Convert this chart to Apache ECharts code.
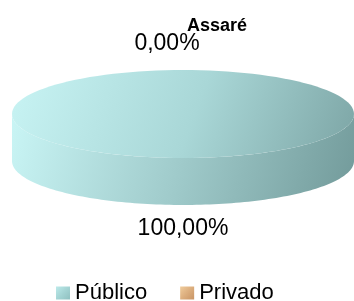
<!DOCTYPE html>
<html>
<head>
<meta charset="utf-8">
<title>Assaré</title>
<script src="https://cdn.jsdelivr.net/npm/echarts@6/dist/echarts.min.js"></script>
<style>
  html, body { margin: 0; padding: 0; background: #fff; }
  #main { width: 354px; height: 301px; }
</style>
</head>
<body>
<div id="main"></div>
<script type="text/javascript">
// dados
var titulo = 'Assaré';
var categorias = ['Público', 'Privado'];
var valores = [100, 0];

// cores: [claro, meio, escuro] de cada fatia
var coresTopo = [['#c6f2f2', '#a9d7d7', '#7aa2a2'], ['#f2d6b2', '#deb284', '#c08a58']];
var coresLado = [['#c9f5f5', '#9fcaca', '#729a9a'], ['#f0d0a8', '#d4a474', '#b07c4c']];
var coresLegenda = [['#bdeaea', '#a4d4d4', '#8fc0c0'], ['#f0cc9c', '#dcae7e', '#c89464']];

var total = valores.reduce(function (a, b) { return a + b; }, 0);
var inicio = [];
var acc = 0;
for (var i = 0; i < valores.length; i++) {
    inicio.push(acc);
    acc += valores[i];
}

function fmt(v) {
    return (v / total * 100).toFixed(2).replace('.', ',') + '%';
}

function grad(x0, y0, x1, y1, c, global) {
    return {
        type: 'linear', x: x0, y: y0, x2: x1, y2: y1, global: !!global,
        colorStops: [
            { offset: 0, color: c[0] },
            { offset: 0.5, color: c[1] },
            { offset: 1, color: c[2] }
        ]
    };
}

// geometria do disco
var cx = 183, cy = 114, rx = 171, ry = 44, h = 47, off = 26;

function pt(a, dy) {
    return [cx + rx * Math.sin(a), cy - ry * Math.cos(a) + (dy || 0)];
}

function renderSlice(idx) {
    return function (params, api) {
        var v = api.value(0);
        var a0 = inicio[idx] / total * Math.PI * 2;
        var a1 = (inicio[idx] + v) / total * Math.PI * 2;
        var children = [];
        var n = 120;
        if (v > 0) {
            // lateral (metade da frente: de 90 a 270 graus)
            var s0 = Math.max(a0, Math.PI / 2), s1 = Math.min(a1, Math.PI * 1.5);
            if (s1 > s0) {
                var side = [];
                for (var k = 0; k <= n; k++) side.push(pt(s0 + (s1 - s0) * k / n, 0));
                for (var k2 = n; k2 >= 0; k2--) side.push(pt(s0 + (s1 - s0) * k2 / n, h));
                children.push({
                    type: 'polygon', shape: { points: side },
                    style: { fill: grad(cx - rx, cy, cx + rx, cy + ry + h, coresLado[idx], true) }
                });
            }
            // topo
            var top = [];
            if (a1 - a0 < Math.PI * 2 - 1e-6) top.push([cx, cy]);
            for (var j = 0; j <= n; j++) top.push(pt(a0 + (a1 - a0) * j / n, 0));
            children.push({
                type: 'polygon', shape: { points: top },
                style: { fill: grad(cx - rx * 0.9, cy - ry * 1.2, cx + rx, cy + ry * 1.6, coresTopo[idx], true) }
            });
        }
        // rótulo
        var am = (a0 + a1) / 2;
        var lx = cx + (rx + off) * Math.sin(am);
        var ly = cy - (ry + off) * Math.cos(am);
        if (Math.cos(am) < 0) ly += h - 2;
        else lx -= 16;
        children.push({
            type: 'text',
            style: {
                text: fmt(v), x: lx, y: ly, align: 'center', verticalAlign: 'middle',
                font: '23px "Liberation Sans", Arial, sans-serif', fill: '#000'
            },
            z2: 10
        });
        return { type: 'group', children: children };
    };
}

var series = [];
for (var s = 0; s < categorias.length; s++) {
    series.push({
        name: categorias[s],
        type: 'custom',
        coordinateSystem: 'none',
        renderItem: renderSlice(s),
        itemStyle: { color: grad(0, 0, 1, 1, coresLegenda[s], false) },
        data: [[valores[s]]],
        silent: true
    });
}

var myChart = echarts.init(document.getElementById('main'), null, { renderer: 'canvas' });
var option = {
    animation: false,
    title: {
        text: titulo,
        left: 187,
        top: 17,
        padding: 0,
        textStyle: { fontSize: 18, fontWeight: 'bold', color: '#000', fontFamily: 'Liberation Sans' }
    },
    legend: {
        data: categorias.map(function (c, i) {
            return { name: c, itemStyle: { color: grad(0, 0, 1, 1, coresLegenda[i], false) } };
        }),
        left: 56,
        top: 282,
        padding: 0,
        icon: 'rect',
        itemWidth: 14,
        itemHeight: 13,
        itemGap: 33,
        textStyle: { fontSize: 22, color: '#000', fontFamily: 'Liberation Sans' }
    },
    series: series
};
myChart.setOption(option);
</script>
</body>
</html>
